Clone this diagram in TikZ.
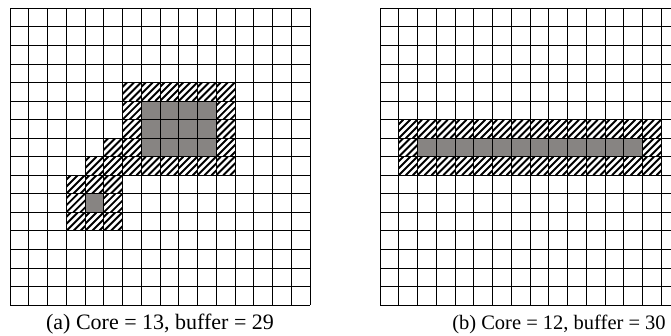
\documentclass[tikz,border=0pt]{standalone}
\usepackage{fontspec}
\setmainfont{Liberation Serif}
\definecolor{coregray}{RGB}{135,132,130}
\newcommand\cw{18.75}
\newcommand\ch{18.55}
\newcommand\hatchcell[4]{%
  \begin{scope}
    \clip (#1+#3*\cw, #2+#4*\ch) rectangle ++(\cw,\ch);
    \foreach \k in {-14,-7,0,7,14}
      \draw[hatchline] (#1+#3*\cw+\k, #2+#4*\ch+\ch) -- ++(\ch,-\ch);
  \end{scope}}
\newcommand\corecells[6]{% ox oy col row ncols nrows
  \fill[coregray] (#1+#3*\cw, #2+#4*\ch) rectangle ++(#5*\cw, #6*\ch);}
\newcommand\gridlines[2]{%
  \foreach \i in {0,...,16}
    \draw[gridline] (#1+\i*\cw, #2) -- ++(0, 16*\ch);
  \foreach \j in {0,...,16}
    \draw[gridline] (#1, #2+\j*\ch) -- ++(16*\cw, 0);}
\begin{document}
\begin{tikzpicture}[x=1pt,y=-1pt,
  gridline/.style={line width=0.9pt,black},
  hatchline/.style={line width=1.9pt,black},
  caption/.style={inner sep=0pt}]
\useasboundingbox (0,0) rectangle (671,335);
\clip (0,0) rectangle (671,335);
% ---------- left grid (a) ----------
\def\ox{10}\def\oy{8.3}
\corecells{\ox}{\oy}{7}{5}{4}{3}
\corecells{\ox}{\oy}{4}{10}{1}{1}
\foreach \c in {6,...,11} {\hatchcell{\ox}{\oy}{\c}{4}}
\foreach \c in {6,11} {\hatchcell{\ox}{\oy}{\c}{5}}
\foreach \c in {6,11} {\hatchcell{\ox}{\oy}{\c}{6}}
\foreach \c in {5,6,11} {\hatchcell{\ox}{\oy}{\c}{7}}
\foreach \c in {4,...,11} {\hatchcell{\ox}{\oy}{\c}{8}}
\foreach \c in {3,4,5} {\hatchcell{\ox}{\oy}{\c}{9}}
\foreach \c in {3,5} {\hatchcell{\ox}{\oy}{\c}{10}}
\foreach \c in {3,4,5} {\hatchcell{\ox}{\oy}{\c}{11}}
\gridlines{\ox}{\oy}
% ---------- right grid (b) ----------
\def\ox{380}\def\oy{8.3}
\corecells{\ox}{\oy}{2}{7}{12}{1}
\foreach \c in {1,...,14} {\hatchcell{\ox}{\oy}{\c}{6}}
\foreach \c in {1,14} {\hatchcell{\ox}{\oy}{\c}{7}}
\foreach \c in {1,...,14} {\hatchcell{\ox}{\oy}{\c}{8}}
\gridlines{\ox}{\oy}
% ---------- captions ----------
\node[caption, font=\fontsize{22}{26}\selectfont, anchor=base] (capa) at (160,329) {(a) Core = 13, buffer = 29};
\node[caption, font=\fontsize{20.5}{24}\selectfont, anchor=base] (capb) at (559,329) {(b) Core = 12, buffer = 30};
\end{tikzpicture}
\end{document}
